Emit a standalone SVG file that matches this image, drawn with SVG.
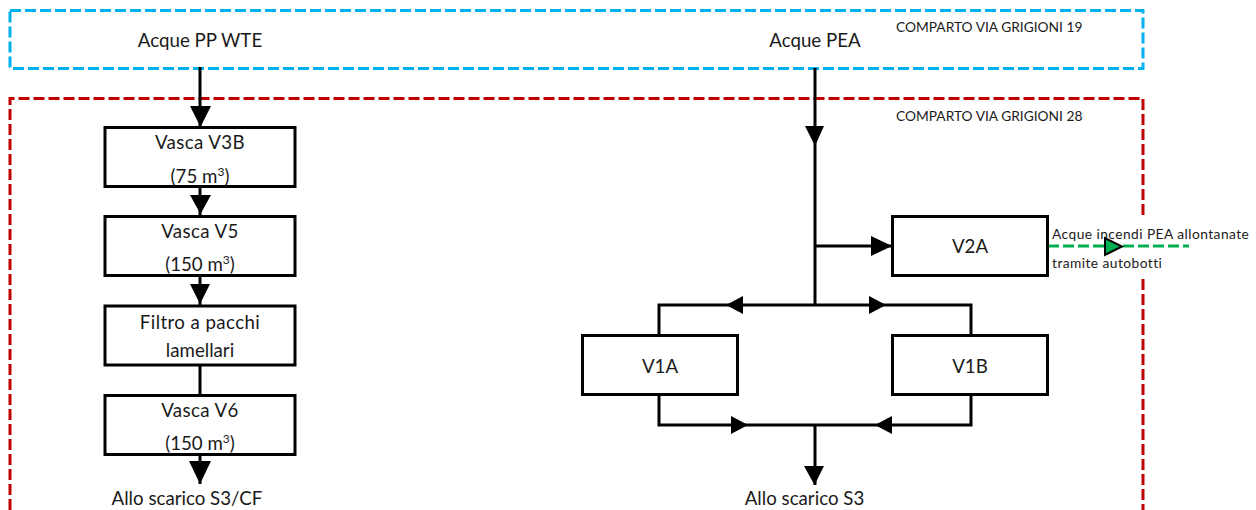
<svg xmlns="http://www.w3.org/2000/svg" width="1256" height="510" viewBox="0 0 1256 510">
<style>
text{font-family:Lato,"Open Sans","Liberation Sans",sans-serif;fill:#1a1a1a}
.t{font-size:18.7px;text-anchor:middle}
.n{letter-spacing:.4px}
.c{font-size:13.75px}
.w{letter-spacing:.45px}
.sup{font-size:12px}
.box{fill:#fff;stroke:#000;stroke-width:3}
.l{fill:none;stroke:#000;stroke-width:3}
.h{fill:#000}
</style>
<rect width="1256" height="510" fill="#fff"/>
<g id="comparto-19">
<rect x="10" y="10.500" width="1133" height="58" fill="none" stroke="#00b0f0" stroke-width="3" stroke-dasharray="11 4"/>
<text class="c" x="896" y="32">COMPARTO VIA GRIGIONI 19</text>
</g>
<g id="comparto-28">
<path d="M10 510V98.500H1143V510" fill="none" stroke="#c00000" stroke-width="3" stroke-dasharray="11 4"/>
<text class="c" x="896" y="121">COMPARTO VIA GRIGIONI 28</text>
</g>
<g id="autobotti"><rect x="1050" y="218" width="204" height="58" fill="#fff"/><text class="c w" x="1052" y="239">Acque incendi PEA allontanate</text><text class="c w" x="1052" y="268">tramite autobotti</text></g>
<g id="connectors">
<path class="l" d="M200 67V127M200 186V216M200 275V305M200 365V395M200 454V484"/>
<path class="h" d="M190 106H211L200.500 127ZM190 195H211L200.500 214ZM190 284H210L200 304ZM189 461H211L200 484Z"/>
<path class="l" d="M815 68V305M815 246H892M659 335V305H971V335M659 395V425H971V395M815 425V485"/>
<path class="h" d="M805 126H824L815 146ZM871 236V256L892 246ZM743 296V314L726 305ZM869 296V314L886 305ZM731 416V434L748 425ZM892 416V434L875 425ZM804 466H824L814.500 485Z"/>
<path d="M1048 246H1189" fill="none" stroke="#00b050" stroke-width="3" stroke-dasharray="11 4"/>
<path d="M1105 238V255L1122 246.500Z" fill="#00b050" stroke="#000" stroke-width="2"/>
</g>
<g id="acque-pp"><text class="t" x="200" y="47">Acque PP WTE</text></g>
<g id="acque-pea"><text class="t" x="815" y="47">Acque PEA</text></g>
<g id="v3b"><rect class="box" x="105" y="127.500" width="190" height="59"/><text class="t n" x="200" y="148.500">Vasca V3B</text><text class="t" x="200" y="182.500">(75 m<tspan class="sup" dy="-7">3</tspan><tspan dy="7">)</tspan></text></g>
<g id="v5"><rect class="box" x="105" y="216.500" width="190" height="59"/><text class="t n" x="200" y="237.500">Vasca V5</text><text class="t" x="200" y="271">(150 m<tspan class="sup" dy="-7">3</tspan><tspan dy="7">)</tspan></text></g>
<g id="filtro"><rect class="box" x="105" y="306" width="190" height="59"/><text class="t n" x="200" y="329">Filtro a pacchi</text><text class="t" x="200" y="357">lamellari</text></g>
<g id="v6"><rect class="box" x="105" y="395.500" width="190" height="59"/><text class="t n" x="200" y="417">Vasca V6</text><text class="t" x="200" y="450">(150 m<tspan class="sup" dy="-7">3</tspan><tspan dy="7">)</tspan></text></g>
<g id="scarico-s3cf"><text class="t" x="187" y="505">Allo scarico S3/CF</text></g>
<g id="v2a"><rect class="box" x="892.500" y="216.500" width="155" height="59"/><text class="t" x="970" y="253">V2A</text></g>
<g id="v1a"><rect class="box" x="582.500" y="335.500" width="155" height="59"/><text class="t" x="660" y="373">V1A</text></g>
<g id="v1b"><rect class="box" x="892.500" y="335.500" width="155" height="59"/><text class="t" x="970" y="373">V1B</text></g>
<g id="scarico-s3"><text class="t" x="804.500" y="505">Allo scarico S3</text></g>
</svg>
